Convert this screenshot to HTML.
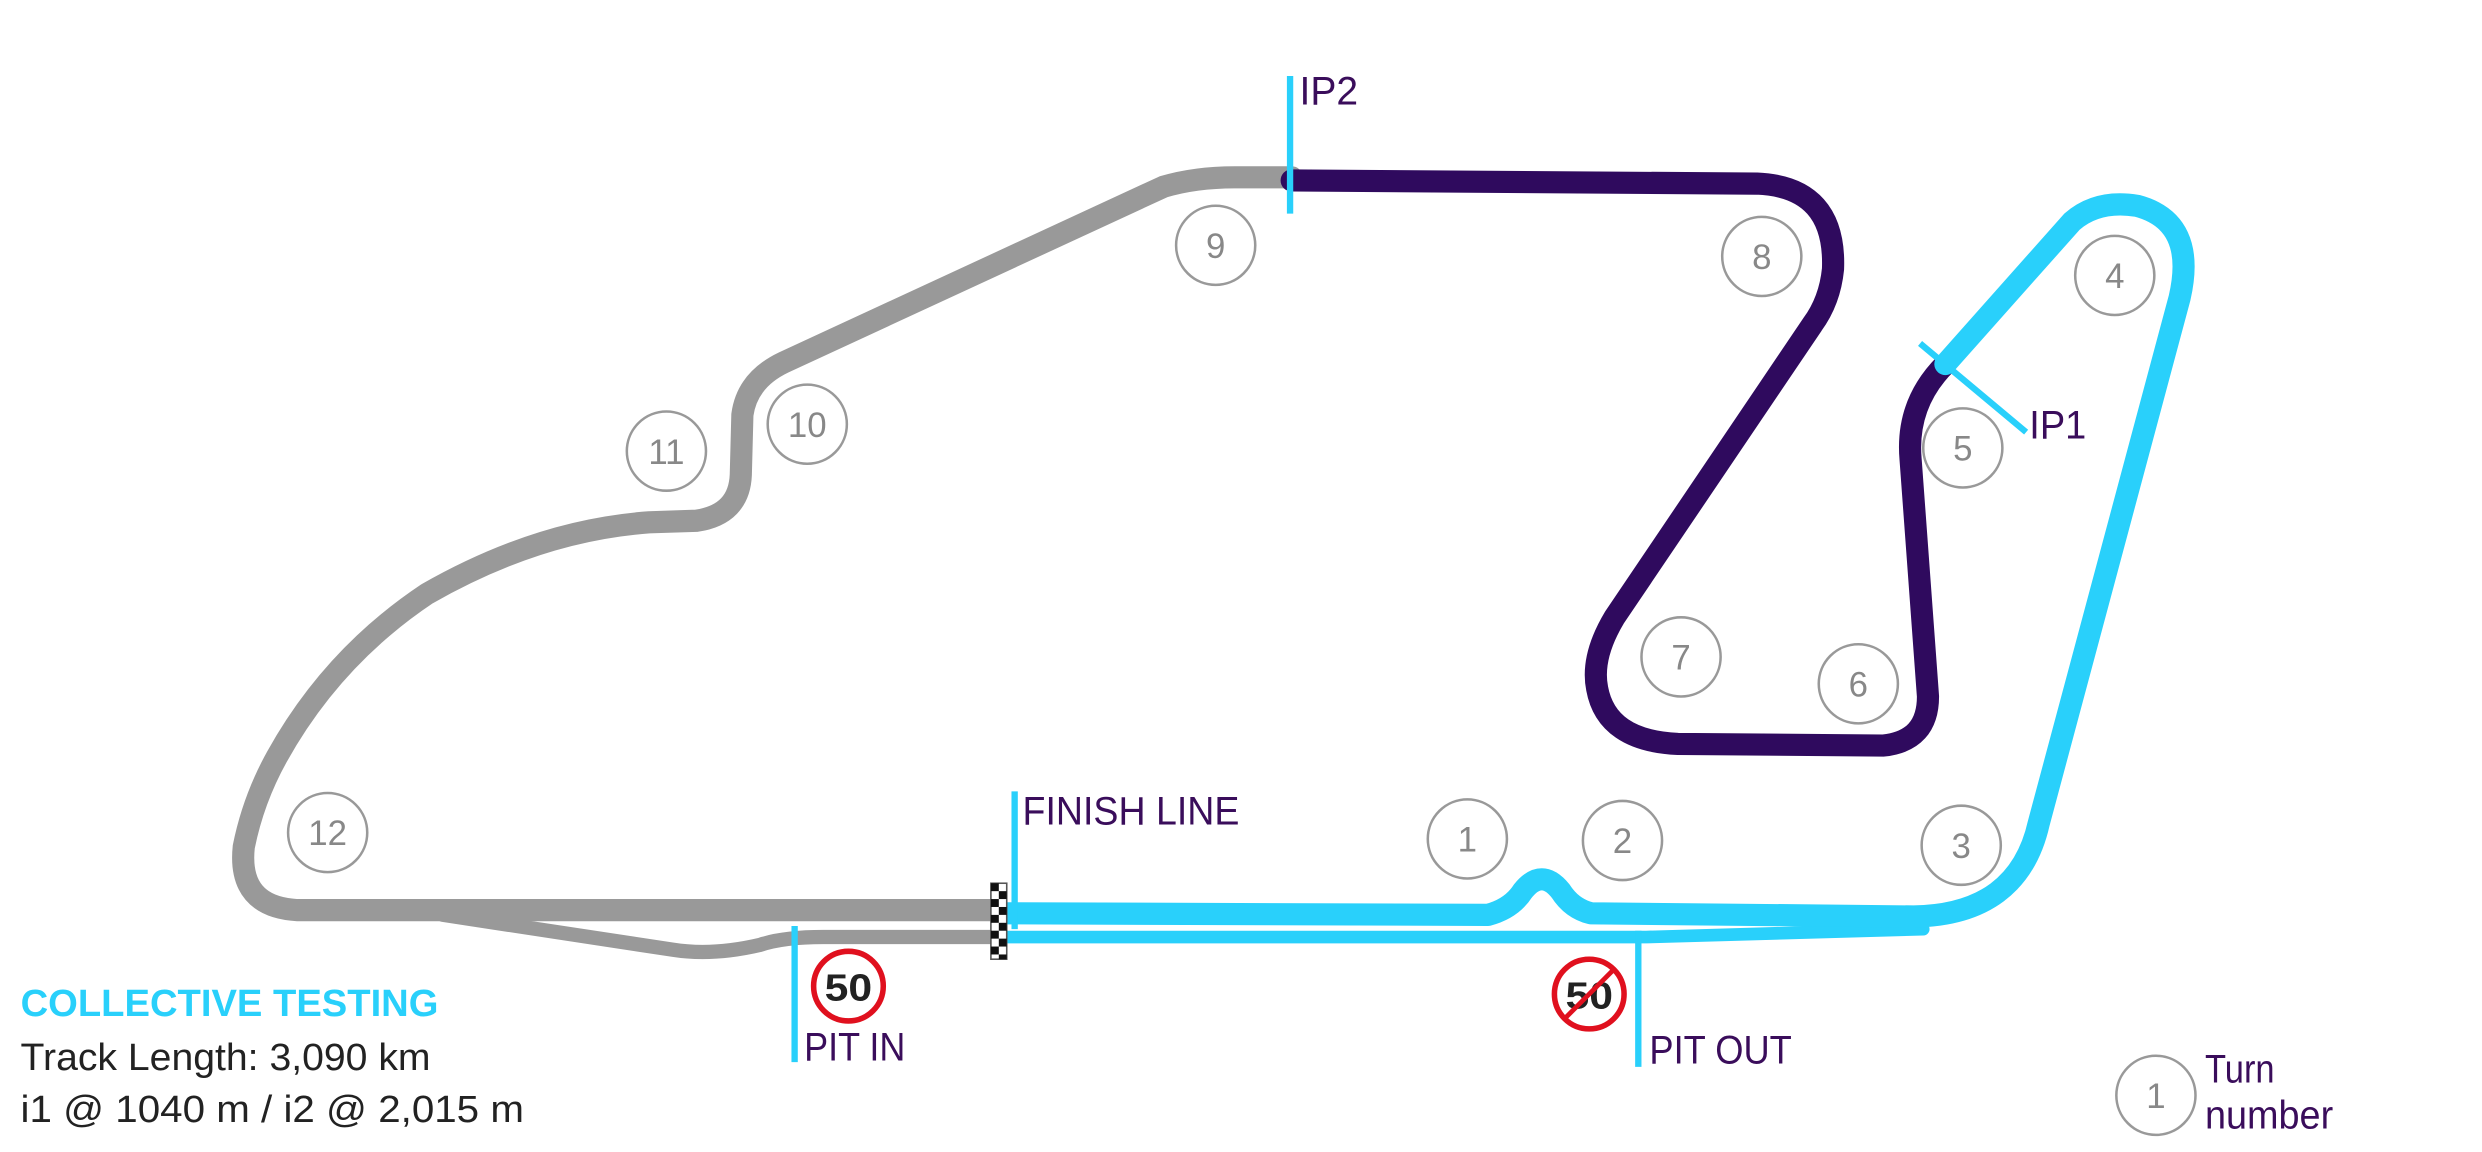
<!DOCTYPE html>
<html><head><meta charset="utf-8"><style>
html,body{margin:0;padding:0;background:#fff;}
svg{display:block;}
text{font-family:"Liberation Sans Narrow","Liberation Sans",sans-serif;}
</style></head><body>
<svg width="2482" height="1152" viewBox="0 0 1568 727.8" preserveAspectRatio="none" xmlns="http://www.w3.org/2000/svg">
<rect width="1568" height="727.8" fill="#fff"/>
<g fill="none" stroke-linecap="round" stroke-linejoin="round">
<!-- gray pit in lane -->
<path d="M280,578 L425,600 Q450,604 480,597 Q495,592 520,592 L630,592" stroke="#999" stroke-width="9"/>
<!-- gray main -->
<path d="M630,575 L188,575 Q150,573 154,535 Q160,505 175,478 Q210,415 270,375 Q340,335 410,330 L440,329 Q467,325 468,300 L469,262 Q472,240 495,229 L735,118 Q755,112 780,112 L816,112" stroke="#999" stroke-width="14"/>
<!-- purple -->
<path d="M816,114 L1110,116 Q1160,118 1158,170 Q1156,190 1145,205 L1020,390 Q1005,415 1009,435 Q1015,468 1060,470 L1190,471 Q1218,468 1218,440 L1207,290 Q1204,255 1229,230" stroke="#2f0a5e" stroke-width="14"/>
<!-- blue pit out lane -->
<path d="M636,592 L1040,592 L1215,587" stroke="#29d0fb" stroke-width="8"/>
<!-- blue main -->
<path d="M636,577 L940,578 Q955,574 962,563 Q974,548 986,563 Q993,574 1005,577 L1209,579 Q1275,578 1288,520 L1377,188 Q1388,140 1350,130 Q1325,126 1309,140 L1229,230" stroke="#29d0fb" stroke-width="14"/>
</g>
<!-- markers -->
<g stroke="#29d0fb" stroke-width="4">
<line x1="815" y1="48" x2="815" y2="135"/>
<line x1="1213" y1="217" x2="1280" y2="273"/>
<line x1="641" y1="500" x2="641" y2="587"/>
<line x1="502" y1="585" x2="502" y2="671"/>
<line x1="1035" y1="588" x2="1035" y2="674"/>
</g>
<!-- checker -->
<g>
<rect x="626" y="558" width="10" height="48" fill="#fff" stroke="#555" stroke-width="1"/>
<g fill="#111">
<rect x="626" y="558" width="5" height="5"/><rect x="631" y="563" width="5" height="5"/>
<rect x="626" y="568" width="5" height="5"/><rect x="631" y="573" width="5" height="5"/>
<rect x="626" y="578" width="5" height="5"/><rect x="631" y="583" width="5" height="5"/>
<rect x="626" y="588" width="5" height="5"/><rect x="631" y="593" width="5" height="5"/>
<rect x="626" y="598" width="5" height="5"/><rect x="631" y="603" width="5" height="3"/>
</g></g>
<!-- speed signs -->
<circle cx="536" cy="623" r="22" fill="#fff" stroke="#e0101e" stroke-width="3.5"/>
<text x="536" y="632" font-size="24" font-weight="bold" text-anchor="middle" fill="#222" textLength="30" lengthAdjust="spacingAndGlyphs">50</text>
<circle cx="1004" cy="628" r="22" fill="#fff" stroke="#e0101e" stroke-width="3.5"/>
<text x="1004" y="637" font-size="24" font-weight="bold" text-anchor="middle" fill="#222" textLength="30" lengthAdjust="spacingAndGlyphs">50</text>
<line x1="988" y1="644" x2="1020" y2="612" stroke="#e0101e" stroke-width="3"/>
<!-- turn circles -->
<g fill="#fff" stroke="#999" stroke-width="1.6">
<circle cx="768" cy="155" r="25"/><circle cx="1113" cy="162" r="25"/>
<circle cx="1336" cy="174" r="25"/><circle cx="1240" cy="283" r="25"/>
<circle cx="1062" cy="415" r="25"/><circle cx="1174" cy="432" r="25"/>
<circle cx="1239" cy="534" r="25"/><circle cx="1025" cy="531" r="25"/>
<circle cx="927" cy="530" r="25"/><circle cx="510" cy="268" r="25"/>
<circle cx="421" cy="285" r="25"/><circle cx="207" cy="526" r="25"/>
<circle cx="1362" cy="692" r="25"/>
</g>
<g font-size="22" fill="#888" text-anchor="middle">
<text x="768" y="163">9</text><text x="1113" y="170">8</text>
<text x="1336" y="182">4</text><text x="1240" y="291">5</text>
<text x="1062" y="423">7</text><text x="1174" y="440">6</text>
<text x="1239" y="542">3</text><text x="1025" y="539">2</text>
<text x="927" y="538">1</text><text x="510" y="276">10</text>
<text x="421" y="293">11</text><text x="207" y="534">12</text>
<text x="1362" y="700">1</text>
</g>
<!-- labels -->
<g font-size="25" fill="#3a0d5b" lengthAdjust="spacingAndGlyphs">
<text x="821" y="66" textLength="37" lengthAdjust="spacingAndGlyphs">IP2</text>
<text x="1282" y="277" textLength="36" lengthAdjust="spacingAndGlyphs">IP1</text>
<text x="646" y="521" textLength="137" lengthAdjust="spacingAndGlyphs">FINISH LINE</text>
<text x="508" y="670" textLength="64" lengthAdjust="spacingAndGlyphs">PIT IN</text>
<text x="1042" y="672" textLength="90" lengthAdjust="spacingAndGlyphs">PIT OUT</text>
<text x="1393" y="684" textLength="44" lengthAdjust="spacingAndGlyphs">Turn</text>
<text x="1393" y="713" textLength="81" lengthAdjust="spacingAndGlyphs">number</text>
</g>
<text x="13" y="642" font-size="24" font-weight="bold" fill="#29d0fb" textLength="264" lengthAdjust="spacingAndGlyphs">COLLECTIVE TESTING</text>
<text x="13" y="676" font-size="24" fill="#222" textLength="259" lengthAdjust="spacingAndGlyphs">Track Length: 3,090 km</text>
<text x="13" y="709" font-size="24" fill="#222" textLength="318" lengthAdjust="spacingAndGlyphs">i1 @ 1040 m / i2 @ 2,015 m</text>
</svg>
</body></html>
